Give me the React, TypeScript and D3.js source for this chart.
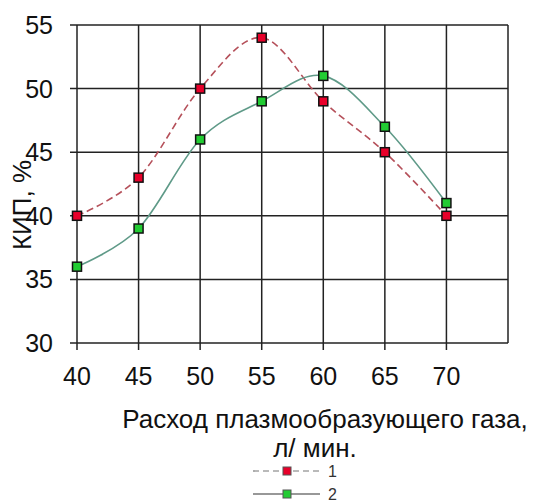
import React, { useRef, useEffect } from "react";
import * as d3 from "d3";

const flowRates = [40, 45, 50, 55, 60, 65, 70];
const series1 = [40, 43, 50, 54, 49, 45, 40];
const series2 = [36, 39, 46, 49, 51, 47, 41];
const yTicks = [30, 35, 40, 45, 50, 55];
const xTicks = [40, 45, 50, 55, 60, 65, 70];

const App = () => {
  const svgRef = useRef(null);

  const drawChart = () => {
    const width = 535;
    const height = 504;
    const svg = d3.select(svgRef.current);
    svg.selectAll("*").remove();
    svg.attr("width", width).attr("height", height);

    /* scales */
    const x = d3.scaleLinear().domain([40, 75]).range([77, 508]);
    const y = d3.scaleLinear().domain([30, 55]).range([343, 25]);

    const font = "'Liberation Sans', Arial, sans-serif";

    /* grid */
    const grid = svg.append("g").attr("stroke", "#222").attr("stroke-width", 1.5);
    grid
      .selectAll(".gx")
      .data(xTicks.concat([75]))
      .enter()
      .append("line")
      .attr("x1", (d) => x(d))
      .attr("x2", (d) => x(d))
      .attr("y1", y(55))
      .attr("y2", (d) => (d === 75 ? y(30) : y(30) + 7));
    grid
      .selectAll(".gy")
      .data(yTicks)
      .enter()
      .append("line")
      .attr("x1", x(40) - 7)
      .attr("x2", x(75))
      .attr("y1", (d) => y(d))
      .attr("y2", (d) => y(d));

    /* tick labels */
    svg
      .selectAll(".ylab")
      .data(yTicks)
      .enter()
      .append("text")
      .attr("x", 53)
      .attr("y", (d) => y(d) + 9)
      .attr("text-anchor", "end")
      .style("font-family", font)
      .style("font-size", "25px")
      .attr("fill", "#111")
      .text((d) => d);

    svg
      .selectAll(".xlab")
      .data(xTicks)
      .enter()
      .append("text")
      .attr("x", (d) => x(d))
      .attr("y", 385)
      .attr("text-anchor", "middle")
      .style("font-family", font)
      .style("font-size", "25px")
      .attr("fill", "#111")
      .text((d) => d);

    /* axis titles */
    svg
      .append("text")
      .attr("transform", "translate(31, 205) rotate(-90)")
      .attr("text-anchor", "middle")
      .style("font-family", font)
      .style("font-size", "26px")
      .attr("fill", "#111")
      .text("КИП, %");

    svg
      .append("text")
      .attr("x", 325)
      .attr("y", 428)
      .attr("text-anchor", "middle")
      .style("font-family", font)
      .style("font-size", "26px")
      .attr("fill", "#111")
      .text("Расход плазмообразующего газа,");

    svg
      .append("text")
      .attr("x", 315)
      .attr("y", 457)
      .attr("text-anchor", "middle")
      .style("font-family", font)
      .style("font-size", "26px")
      .attr("fill", "#111")
      .text("л/ мин.");

    /* lines */
    const line = d3
      .line()
      .x((d) => x(d[0]))
      .y((d) => y(d[1]))
      .curve(d3.curveCardinal.tension(0));

    const series = [
      { values: series1, stroke: "#b5505a", dash: "7,4", fill: "#e8002a", name: "1" },
      { values: series2, stroke: "#5f9a88", dash: null, fill: "#22cc33", name: "2" },
    ];

    series.forEach((s) => {
      const pts = flowRates.map((f, i) => [f, s.values[i]]);
      svg
        .append("path")
        .datum(pts)
        .attr("fill", "none")
        .attr("stroke", s.stroke)
        .attr("stroke-width", 1.6)
        .attr("stroke-dasharray", s.dash)
        .attr("d", line);
    });

    series.forEach((s) => {
      svg
        .selectAll(null)
        .data(flowRates.map((f, i) => [f, s.values[i]]))
        .enter()
        .append("rect")
        .attr("x", (d) => x(d[0]) - 4.5)
        .attr("y", (d) => y(d[1]) - 4.5)
        .attr("width", 9)
        .attr("height", 9)
        .attr("fill", s.fill)
        .attr("stroke", "#111")
        .attr("stroke-width", 1.5);
    });

    /* legend */
    series.forEach((s, i) => {
      const ly = 471 + i * 23;
      svg
        .append("line")
        .attr("x1", 253)
        .attr("x2", 320)
        .attr("y1", ly)
        .attr("y2", ly)
        .attr("stroke", i === 0 ? "#777" : "#333")
        .attr("stroke-width", 1.2)
        .attr("stroke-dasharray", i === 0 ? "6,4" : null);
      svg
        .append("rect")
        .attr("x", 283)
        .attr("y", ly - 4)
        .attr("width", 8)
        .attr("height", 8)
        .attr("fill", s.fill)
        .attr("stroke", "#555")
        .attr("stroke-width", 1);
      svg
        .append("text")
        .attr("x", 328)
        .attr("y", ly + 6)
        .style("font-family", font)
        .style("font-size", "16px")
        .attr("fill", "#333")
        .text(s.name);
    });
  };

  useEffect(() => {
    drawChart();
  }, []);

  return (
    <div style={{ position: "absolute", left: 0, top: 0 }}>
      <svg ref={svgRef} style={{ display: "block" }} />
    </div>
  );
};

export default App;
